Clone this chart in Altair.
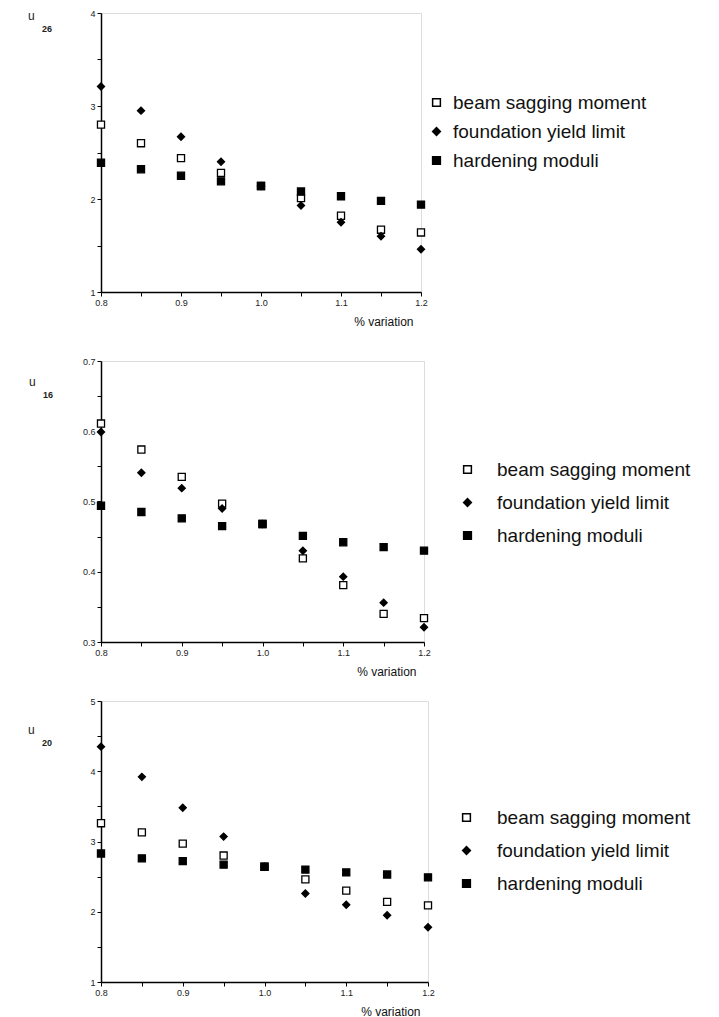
import altair as alt
import pandas as pd

x_vals = [0.8, 0.85, 0.9, 0.95, 1.0, 1.05, 1.1, 1.15, 1.2]
x_ticks = [0.8, 0.85, 0.9, 0.95, 1.0, 1.05, 1.1, 1.15, 1.2]
series_names = ["beam sagging moment", "foundation yield limit", "hardening moduli"]

u26_beam = [2.80, 2.60, 2.44, 2.28, 2.14, 2.01, 1.82, 1.67, 1.64]
u26_found = [3.21, 2.95, 2.67, 2.40, 2.14, 1.93, 1.75, 1.60, 1.46]
u26_hard = [2.39, 2.32, 2.25, 2.19, 2.14, 2.08, 2.03, 1.98, 1.94]
u26_yticks = [1, 1.5, 2, 2.5, 3, 3.5, 4]

u16_beam = [0.611, 0.574, 0.535, 0.497, 0.468, 0.419, 0.381, 0.340, 0.334]
u16_found = [0.599, 0.541, 0.519, 0.490, 0.468, 0.430, 0.393, 0.356, 0.321]
u16_hard = [0.494, 0.485, 0.476, 0.465, 0.468, 0.451, 0.442, 0.435, 0.430]
u16_yticks = [0.3, 0.35, 0.4, 0.45, 0.5, 0.55, 0.6, 0.65, 0.7]

u20_beam = [3.26, 3.13, 2.97, 2.80, 2.64, 2.46, 2.30, 2.14, 2.09]
u20_found = [4.35, 3.92, 3.48, 3.07, 2.64, 2.26, 2.10, 1.95, 1.78]
u20_hard = [2.83, 2.76, 2.72, 2.67, 2.64, 2.60, 2.56, 2.53, 2.49]
u20_yticks = [1, 1.5, 2, 2.5, 3, 3.5, 4, 4.5, 5]

FONT = "Liberation Sans"


def panel(beam, found, hard, yticks, major, fmt, sub, width, height,
          lx, ly, loff, rpad, upos):
    rows = []
    for name, vals in zip(series_names, [beam, found, hard]):
        for xv, yv in zip(x_vals, vals):
            rows.append({"x": xv, "y": yv, "series": name})
    df = pd.DataFrame(rows)

    legend = alt.Legend(
        title=None, orient="none", legendX=lx, legendY=ly,
        labelFontSize=19, labelFont=FONT, labelColor="#111", labelLimit=0,
        symbolSize=60, symbolStrokeWidth=1.5,
        rowPadding=rpad, labelOffset=loff, padding=0,
    )
    xaxis = alt.Axis(
        values=x_ticks,
        labelExpr="abs(datum.value*10 - round(datum.value*10)) < 0.001 ? format(datum.value, '.1f') : ''",
        title="% variation", titleFont=FONT, titleFontSize=12,
        titleFontWeight="normal", titleColor="#111",
        titleX=width - 8, titleAlign="right", titleY=24,
        labelFont=FONT, labelFontSize=9, labelColor="#222",
        domainColor="black", domainWidth=1.5, tickColor="black",
        tickSize=4, grid=False, labelFlush=False,
    )
    yaxis = alt.Axis(
        values=yticks,
        labelExpr=f"abs(datum.value/{major} - round(datum.value/{major})) < 0.001 ? format(datum.value, '{fmt}') : ''",
        title=None, labelFont=FONT, labelFontSize=9, labelColor="#222",
        domainColor="black", domainWidth=1.5, tickColor="black",
        tickSize=4, grid=False, labelPadding=2,
    )
    pts = alt.Chart(df).mark_point(
        filled=True, size=50, strokeWidth=1.3, opacity=1
    ).encode(
        x=alt.X("x:Q", scale=alt.Scale(domain=[0.8, 1.2], nice=False, zero=False), axis=xaxis),
        y=alt.Y("y:Q", scale=alt.Scale(domain=[yticks[0], yticks[-1]], nice=False, zero=False), axis=yaxis),
        shape=alt.Shape("series:N", sort=series_names,
                        scale=alt.Scale(domain=series_names, range=["square", "diamond", "square"]),
                        legend=legend),
        fill=alt.Fill("series:N", sort=series_names,
                      scale=alt.Scale(domain=series_names, range=["white", "black", "black"]),
                      legend=legend),
        stroke=alt.Stroke("series:N", sort=series_names,
                          scale=alt.Scale(domain=series_names, range=["black", "black", "black"]),
                          legend=legend),
    )
    lab_df = pd.DataFrame({"t": ["u"], "s": [sub]})
    u_txt = alt.Chart(lab_df).mark_text(
        font=FONT, fontSize=12, align="left", baseline="middle", color="#222"
    ).encode(x=alt.value(upos[0]), y=alt.value(upos[1]), text="t:N")
    s_txt = alt.Chart(lab_df).mark_text(
        font=FONT, fontSize=9, fontWeight="bold", align="left", baseline="middle", color="#222"
    ).encode(x=alt.value(upos[0] + 14), y=alt.value(upos[1] + 13), text="s:N")
    return alt.layer(pts, u_txt, s_txt).properties(width=width, height=height)


p1 = panel(u26_beam, u26_found, u26_hard, u26_yticks, 1, "d", "26", 320, 279,
           326, 80, 7, 9, (-73, 3))
p2 = panel(u16_beam, u16_found, u16_hard, u16_yticks, 0.1, ".1f", "16", 323, 281,
           357, 99, 20, 13, (-72, 21))
p3 = panel(u20_beam, u20_found, u20_hard, u20_yticks, 1, "d", "20", 327, 281,
           356, 107, 21, 13, (-73, 29))

res = dict(shape="independent", fill="independent", stroke="independent")
lower = alt.vconcat(p2, p3, spacing=18).resolve_scale(**res).resolve_legend(**res)
chart = alt.vconcat(p1, lower, spacing=28).resolve_scale(**res).resolve_legend(**res).properties(
    padding={"left": 19, "top": 0, "right": 0, "bottom": 0}
).configure_view(stroke="black", strokeWidth=1.5).configure(background="white")

chart.save("out.html", embed_options={"renderer": "svg", "actions": False})
